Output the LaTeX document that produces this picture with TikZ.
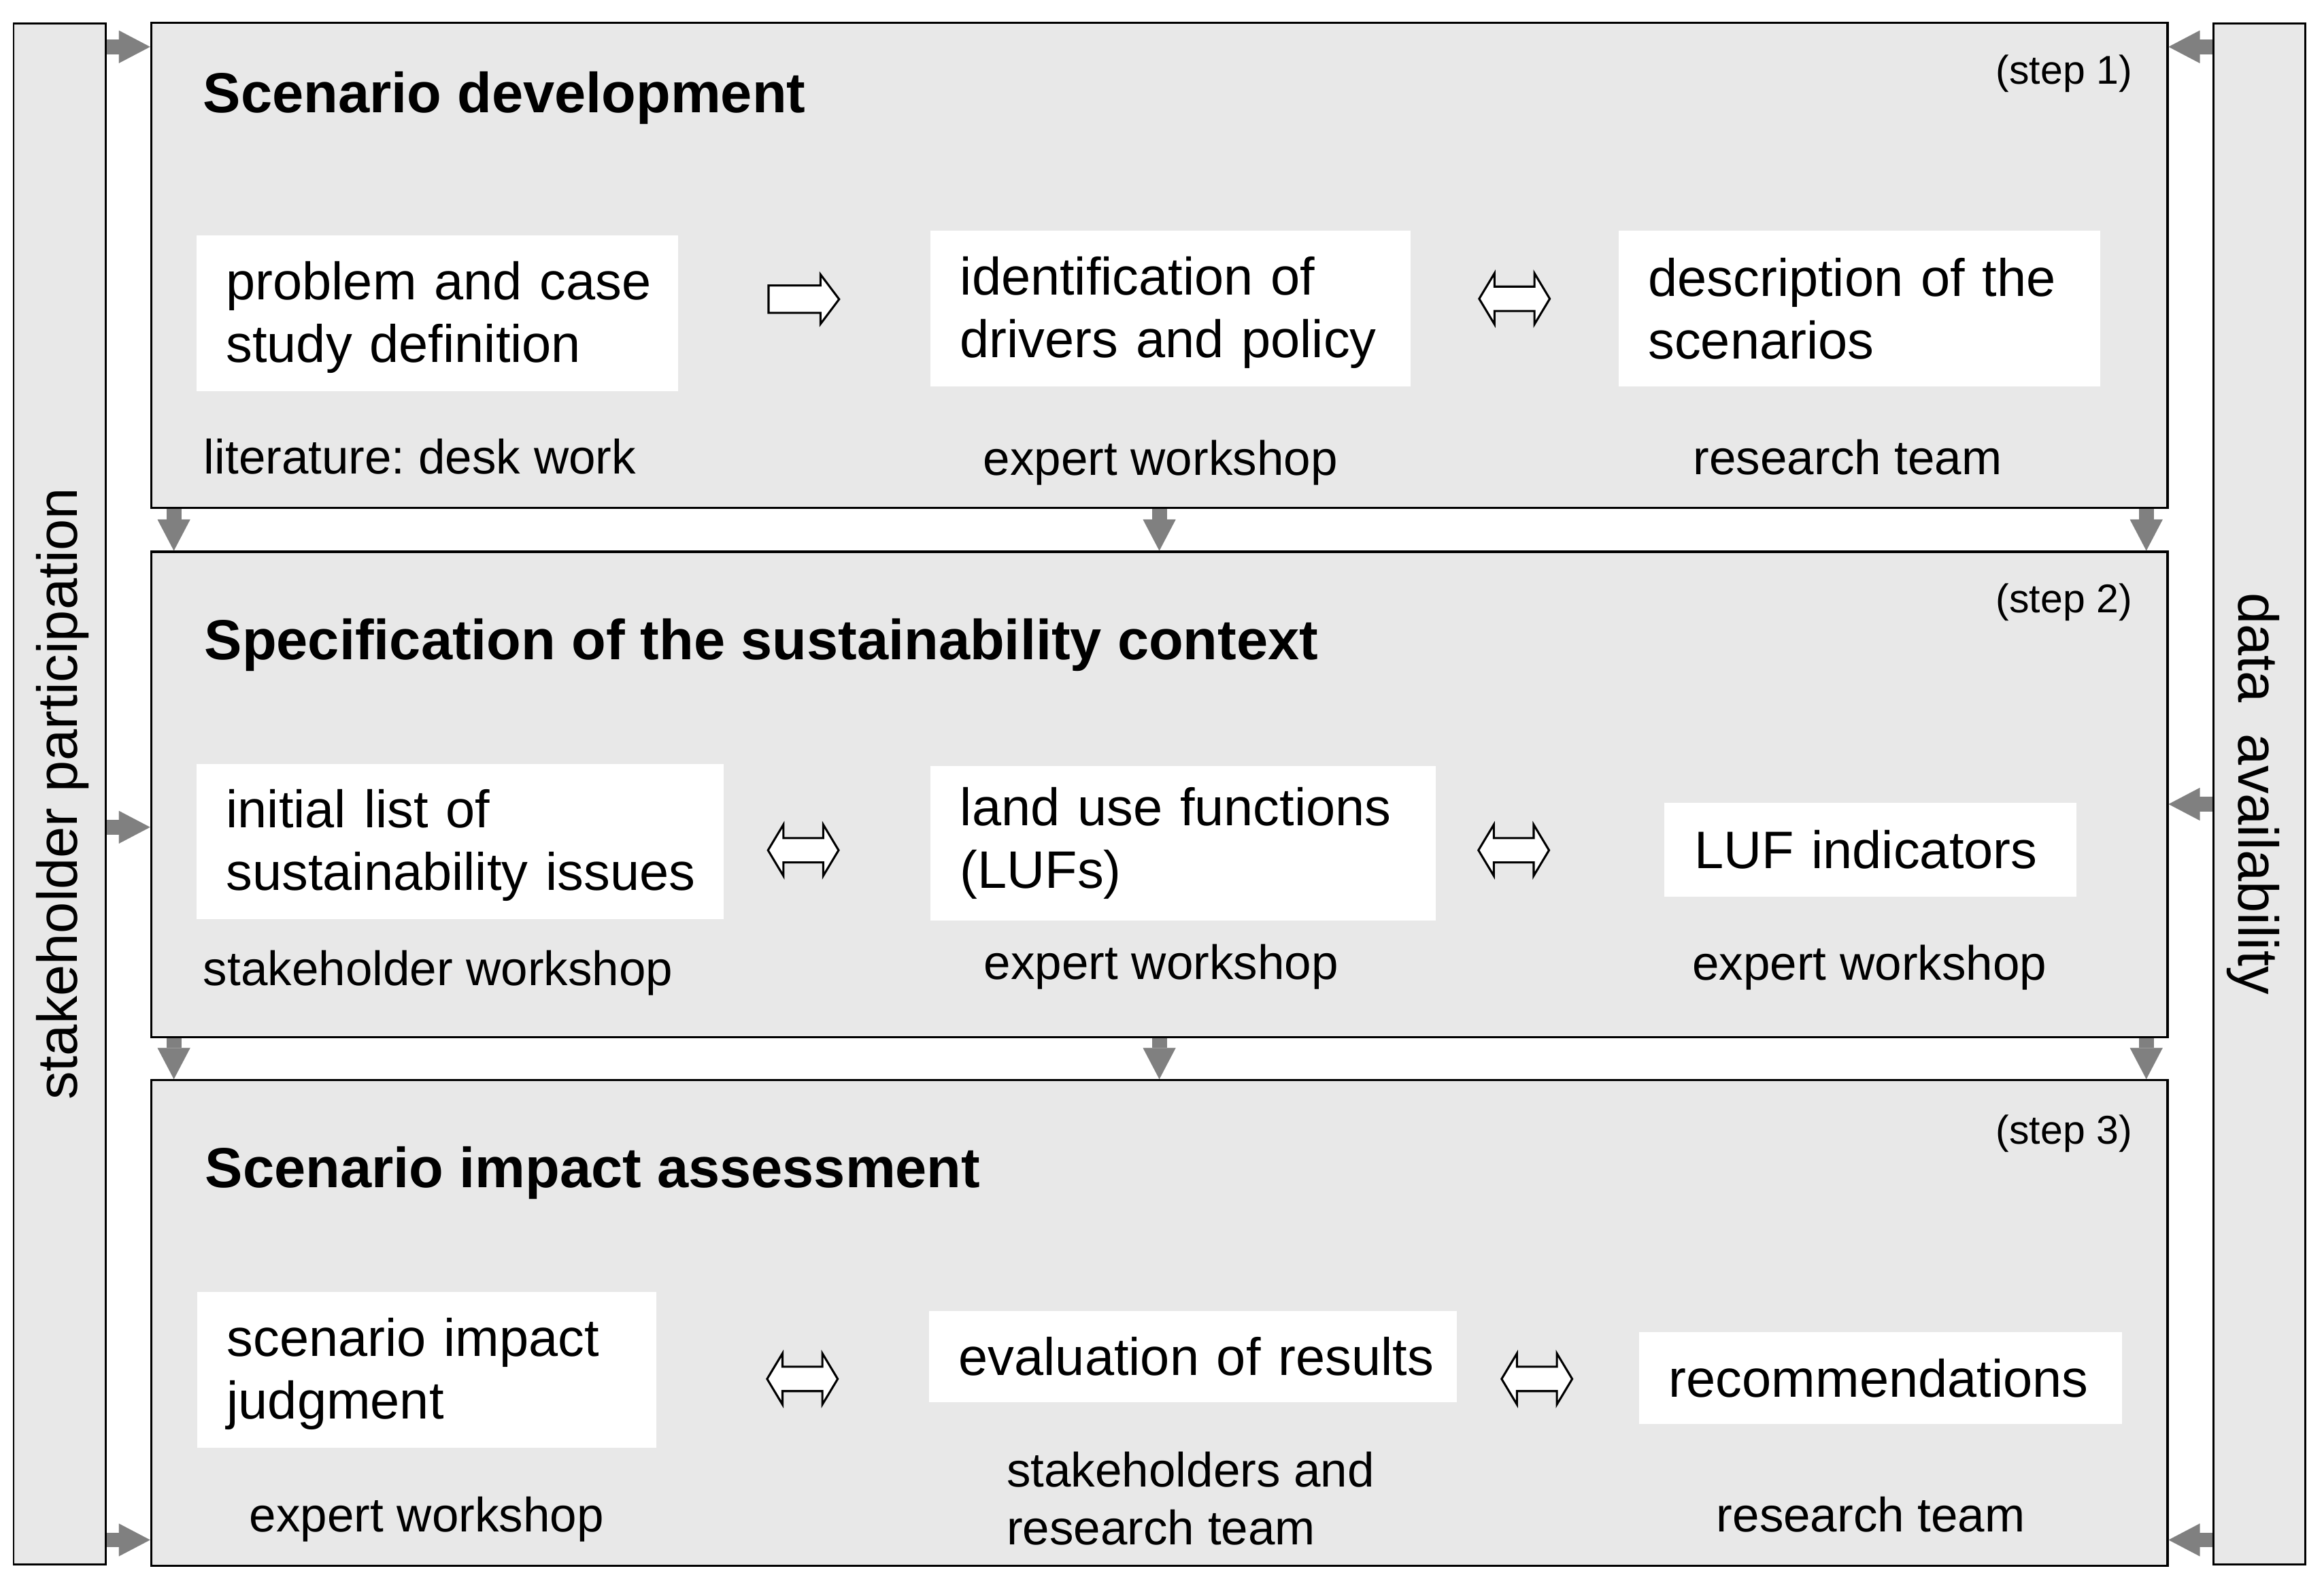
\documentclass[tikz,border=0pt]{standalone}
\usepackage{fontspec}
\setmainfont{Liberation Sans}
\frenchspacing
\usetikzlibrary{arrows.meta,shapes.arrows}
\definecolor{panelgray}{HTML}{E8E8E8}
\definecolor{arrowgray}{HTML}{808080}
\newcommand{\boxfont}{\fontsize{35.5}{42}\selectfont}
\newcommand{\labfont}{\fontsize{32.5}{39}\selectfont}
\newcommand{\ttlfont}{\fontsize{38}{45}\selectfont\bfseries}
\newcommand{\stepfont}{\fontsize{27}{32}\selectfont}
\newcommand{\barfont}{\fontsize{38}{45}\selectfont}
\newcommand{\tallstrut}{\rule{0pt}{31pt}}
\begin{document}
\begin{tikzpicture}[x=1pt,y=-1pt,
  panel/.style={draw=black, line width=1.4pt, fill=panelgray, minimum width=1357pt, minimum height=326.5pt, anchor=north west, inner sep=0pt},
  sidebar/.style={draw=black, line width=1.3pt, fill=panelgray, minimum width=62pt, minimum height=1037pt, anchor=north west, inner sep=0pt},
  wbox/.style={fill=white, draw=none, inner ysep=0pt, inner xsep=20pt, align=left, anchor=north west, font=\boxfont},
  lab/.style={anchor=base west, inner sep=0pt, font=\labfont},
  ttl/.style={anchor=base west, inner sep=0pt, font=\ttlfont},
  steplab/.style={anchor=base east, inner sep=0pt, font=\stepfont},
  bartext/.style={anchor=base, inner sep=0pt, font=\barfont},
  garrow/.style={draw=arrowgray, line width=10pt, -{Triangle[length=21pt,width=22pt,line width=0.1pt]}},
  harrow/.style={single arrow, draw=black, fill=white, line width=1.4pt, minimum height=47.5pt, inner xsep=0pt, inner ysep=8.5pt, single arrow head extend=7.5pt, single arrow tip angle=106},
  hdarrow/.style={double arrow, draw=black, fill=white, line width=1.4pt, minimum height=47.5pt, inner xsep=0pt, inner ysep=7.5pt, double arrow head extend=9pt, double arrow tip angle=118}
]
\useasboundingbox (0,0) rectangle (1564,1070.6);

% side bars
\node[sidebar] (SB) at (8.5,15) {};
\node[sidebar] (DB) at (1488.8,15) {};
\node[bartext, rotate=90] (SBt) at (52,534) {stakeholder participation};
\node[bartext, rotate=-90] (DBt) at (1506.5,534) {data\ \ availability};

% panels
\node[panel] (P1) at (101,14.5) {};
\node[panel] (P2) at (101,370.5) {};
\node[panel] (P3) at (101,726) {};

% titles and step labels
\node[ttl] (T1) at (136.5,75.9) {Scenario development};
\node[ttl] (T2) at (137.4,443.9) {Specification of the sustainability context};
\node[ttl] (T3) at (137.9,799) {Scenario impact assessment};
\node[steplab] (S1) at (1435,56.5) {(step 1)};
\node[steplab] (S2) at (1435,412) {(step 2)};
\node[steplab] (S3) at (1435,769.5) {(step 3)};

% step 1
\node[wbox, text width=284pt, minimum height=105pt] (B11) at (132,158) {\mbox{\tallstrut problem and case}\\\mbox{study definition}};
\node[wbox, text width=283pt, minimum height=105pt] (B12) at (626,155) {\mbox{\tallstrut identification of}\\\mbox{drivers and policy}};
\node[wbox, text width=284pt, minimum height=105pt] (B13) at (1089,155) {\mbox{description of the}\\\mbox{scenarios}};
\node[lab] (L11) at (137,318.7) {literature: desk work};
\node[lab] (L12) at (661.5,319.5) {expert workshop};
\node[lab] (L13) at (1139.4,319.2) {research team};
\node[harrow] (A11) at (537.5,201.3) {};
\node[hdarrow] (A12) at (1019.2,201) {};

% step 2
\node[wbox, text width=315pt, minimum height=104pt] (B21) at (132,514) {\mbox{\tallstrut initial list of}\\\mbox{sustainability issues}};
\node[wbox, text width=300pt, minimum height=104pt] (B22) at (626,515) {\mbox{land use functions}\\\mbox{(LUFs)}};
\node[wbox, text width=237pt, minimum height=63pt] (B23) at (1120,540) {\mbox{LUF indicators}};
\node[lab] (L21) at (136.6,663) {stakeholder workshop};
\node[lab] (L22) at (662,659) {expert workshop};
\node[lab] (L23) at (1138.7,659.3) {expert workshop};
\node[hdarrow] (A21) at (540.6,572) {};
\node[hdarrow] (A22) at (1018.7,572) {};

% step 3
\node[wbox, text width=269pt, minimum height=105pt] (B31) at (132.5,869) {\mbox{\tallstrut scenario impact}\\\mbox{judgment}};
\node[wbox, text width=315pt, minimum height=61pt] (B32) at (625,882) {\mbox{evaluation of results}};
\node[wbox, text width=285pt, minimum height=62pt] (B33) at (1103,896) {\mbox{recommendations}};
\node[lab] (L31) at (167.7,1030.5) {expert workshop};
\node[lab, anchor=north west, align=left] (L32) at (677.3,976.7) {stakeholders and\\research team};
\node[lab] (L33) at (1155,1030.5) {research team};
\node[hdarrow] (A31) at (540,927.7) {};
\node[hdarrow] (A32) at (1034.3,927.7) {};

% grey flow arrows
\coordinate (yT) at (0,31.5);
\coordinate (yL) at (0,556.5);
\coordinate (yR) at (0,541);
\coordinate (yB) at (0,1036);
\draw[garrow] (SB.east |- yT) -- (P1.west |- yT);
\draw[garrow] (SB.east |- yL) -- (P2.west |- yL);
\draw[garrow] (SB.east |- yB) -- (P3.west |- yB);
\draw[garrow] (DB.west |- yT) -- (P1.east |- yT);
\draw[garrow] (DB.west |- yR) -- (P2.east |- yR);
\draw[garrow] (DB.west |- yB) -- (P3.east |- yB);
\draw[garrow] ([xshift=16pt]P1.south west) -- ([xshift=16pt]P2.north west);
\draw[garrow] (P1.south) -- (P2.north);
\draw[garrow] ([xshift=-15pt]P1.south east) -- ([xshift=-15pt]P2.north east);
\draw[garrow] ([xshift=16pt]P2.south west) -- ([xshift=16pt]P3.north west);
\draw[garrow] (P2.south) -- (P3.north);
\draw[garrow] ([xshift=-15pt]P2.south east) -- ([xshift=-15pt]P3.north east);
\end{tikzpicture}
\end{document}
